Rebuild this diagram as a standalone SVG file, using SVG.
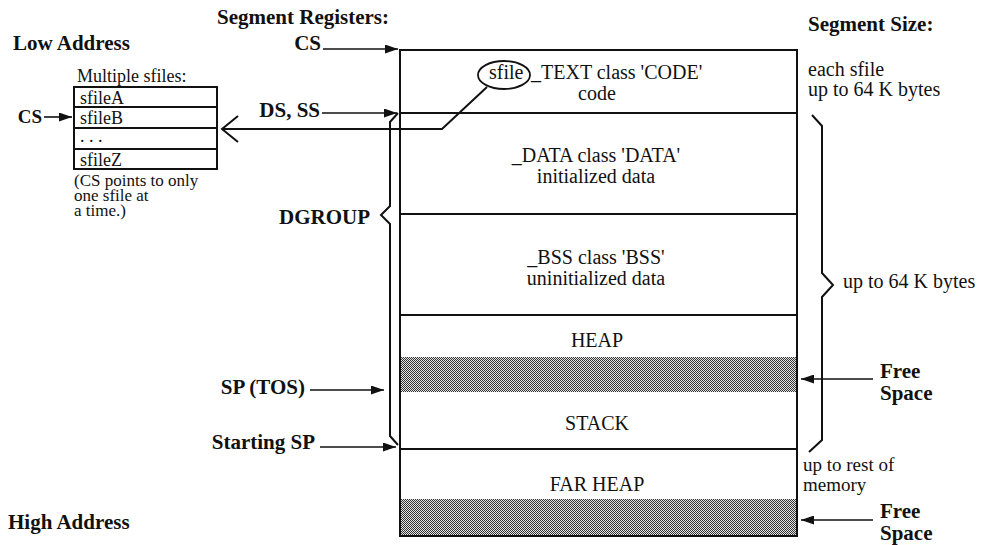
<svg xmlns="http://www.w3.org/2000/svg" width="989" height="545" viewBox="0 0 989 545">
<style>
text{font-family:"Liberation Serif","Times New Roman",serif;fill:#111}
.r{font-size:20px}
.s{font-size:18px}
.n{font-size:17px}
.b{font-size:21px;font-weight:bold}
.m{text-anchor:middle}
.e{text-anchor:end}
.ln{fill:none;stroke:#111;stroke-width:2}
.ar{fill:none;stroke:#111;stroke-width:1.6;marker-end:url(#ah)}
.shade{fill:url(#dots);stroke:none}
</style>
<defs>
<marker id="ah" markerUnits="userSpaceOnUse" markerWidth="14" markerHeight="9" refX="13" refY="4.5" orient="auto">
<path d="M0,0 L13,4.5 L0,9 z" fill="#111"/>
</marker>
<pattern id="dots" width="2" height="2" patternUnits="userSpaceOnUse">
<rect width="2" height="2" fill="#e4e4e4"/>
<rect x="0" y="0" width="1" height="1" fill="#333"/>
<rect x="1" y="1" width="1" height="1" fill="#333"/>
</pattern>
</defs>
<rect width="989" height="545" fill="#fff"/>

<g id="headings">
<text class="b" x="13" y="50">Low Address</text>
<text class="b" x="8" y="529">High Address</text>
<text class="b" x="217" y="24">Segment Registers:</text>
<text class="b" x="808" y="31">Segment Size:</text>
</g>

<g id="sfiles">
<text class="s" x="77" y="82">Multiple sfiles:</text>
<rect class="ln" x="74" y="87" width="143" height="82"/>
<line class="ln" x1="74" y1="107" x2="217" y2="107"/>
<line class="ln" x1="74" y1="128" x2="217" y2="128"/>
<line class="ln" x1="74" y1="149" x2="217" y2="149"/>
<text class="s" x="80" y="104">sfileA</text>
<text class="s" x="80" y="124">sfileB</text>
<text class="s" x="80" y="142">. . .</text>
<text class="s" x="80" y="166">sfileZ</text>
<text class="n" x="74" y="186">(CS points to only</text>
<text class="n" x="74" y="201">one sfile at</text>
<text class="n" x="74" y="216">a time.)</text>
<text class="b" x="42" y="123" style="font-size:19px" text-anchor="end">CS</text>
</g>

<g id="memory">
<rect class="shade" x="400" y="357" width="397" height="35"/>
<rect class="shade" x="400" y="499" width="397" height="37"/>
<rect class="ln" x="400" y="50" width="397" height="486"/>
<line class="ln" x1="400" y1="113" x2="797" y2="113"/>
<line class="ln" x1="400" y1="214" x2="797" y2="214"/>
<line class="ln" x1="400" y1="315" x2="797" y2="315"/>
<line class="ln" x1="400" y1="449" x2="797" y2="449"/>
</g>

<g id="text-seg">
<ellipse class="ln" cx="504" cy="75" rx="26" ry="14" style="stroke-width:1.8"/>
<text class="r" x="489" y="79">sfile<tspan x="531">_TEXT class 'CODE'</tspan></text>
<text class="r m" x="597" y="100">code</text>
</g>
<g id="data-seg">
<text class="r m" x="596" y="162">_DATA class 'DATA'</text>
<text class="r m" x="596" y="183">initialized data</text>
</g>
<g id="bss-seg">
<text class="r m" x="596" y="264">_BSS class 'BSS'</text>
<text class="r m" x="596" y="285">uninitialized data</text>
</g>
<g id="heap-seg"><text class="r m" x="597" y="347">HEAP</text></g>
<g id="stack-seg"><text class="r m" x="597" y="430">STACK</text></g>
<g id="farheap-seg"><text class="r m" x="597" y="491">FAR HEAP</text></g>

<g id="registers">
<text class="b e" x="321" y="50">CS</text>
<text class="b e" x="320" y="117">DS, SS</text>
<text class="b e" x="370" y="224">DGROUP</text>
<text class="b e" x="305" y="394">SP (TOS)</text>
<text class="b e" x="315" y="449">Starting SP</text>
</g>

<g id="sizes">
<text class="r" x="808" y="76">each sfile</text>
<text class="r" x="808" y="96">up to 64 K bytes</text>
<text class="r" x="843" y="288">up to 64 K bytes</text>
<text class="r" x="803" y="471" style="font-size:19px">up to rest of</text>
<text class="r" x="803" y="491" style="font-size:19px">memory</text>
<text class="b" x="880" y="378">Free</text>
<text class="b" x="880" y="400">Space</text>
<text class="b" x="880" y="518">Free</text>
<text class="b" x="880" y="540">Space</text>
</g>

<g id="connectors">
<line class="ar" x1="323" y1="49" x2="398" y2="49"/>
<line class="ar" x1="322" y1="113" x2="397" y2="113"/>
<line class="ar" x1="310" y1="390" x2="384" y2="390"/>
<line class="ar" x1="320" y1="447" x2="396" y2="447"/>
<line class="ar" x1="44" y1="117" x2="72" y2="117"/>
<line class="ar" x1="873" y1="379" x2="801" y2="379"/>
<line class="ar" x1="873" y1="520" x2="801" y2="520"/>
<path class="ln" d="M398,113 L390,122 L390,206 L381,215 L390,224 L390,436 L398,445"/>
<path class="ln" d="M812,115 L822,126 L822,273 L833,285 L822,297 L822,440 L809,452"/>
<path class="ln" d="M487,87 L442,129 L222,129"/>
<path class="ln" d="M238,116 L222,129 L238,142"/>
</g>
</svg>
